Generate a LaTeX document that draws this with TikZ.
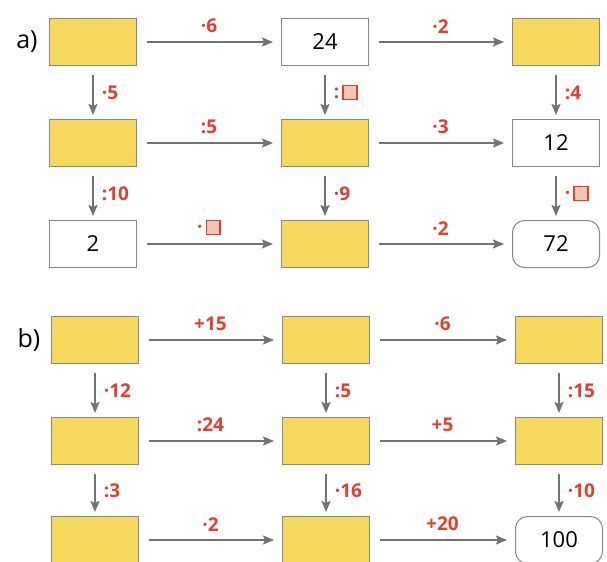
\documentclass[tikz,border=0pt]{standalone}
\usepackage{fontspec}
\setmainfont{Open Sans}
\usetikzlibrary{arrows.meta}
\definecolor{boxyellow}{RGB}{246,216,92}
\definecolor{labred}{RGB}{226,64,44}
\definecolor{arrgray}{RGB}{115,115,115}
\definecolor{sqfill}{RGB}{243,198,178}
\definecolor{boxline}{RGB}{135,135,135}
\newcommand\emptysq{\raisebox{-0.3pt}{\setlength\fboxrule{0.7pt}\setlength\fboxsep{0pt}\fcolorbox{labred}{sqfill}{\rule{6.2pt}{0pt}\rule{0pt}{6.2pt}}}}
\begin{document}
\begin{tikzpicture}[x=0.5pt,y=-0.5pt,
  ybox/.style={draw=boxline, line width=0.5pt, fill=boxyellow, minimum width=43.5pt, minimum height=23.5pt, inner sep=0pt},
  wbox/.style={draw=boxline, line width=0.5pt, fill=white, minimum width=43.5pt, minimum height=23.5pt, inner sep=0pt, font=\fontsize{11}{12}\selectfont},
  rbox/.style={wbox, rounded corners=6pt},
  conn/.style={draw=arrgray, line width=0.9pt, -{Stealth[length=5.5pt,width=4.5pt,inset=1pt]}, shorten <=5pt, shorten >=4pt},
  vconn/.style={conn, shorten <=4.5pt, shorten >=2pt},
  lab/.style={text=labred, font=\fontsize{9.5}{10}\selectfont\bfseries, inner sep=1pt},
  part/.style={font=\fontsize{12.5}{14}\selectfont}
]
\useasboundingbox (0,0) rectangle (607,562);
% part a
\node[part] (pa) at (27,42) {a)};
\node[ybox] (a11) at (93,42) {};
\node[wbox] (a12) at (325,42) {24};
\node[ybox] (a13) at (556,42) {};
\node[ybox] (a21) at (93,143) {};
\node[ybox] (a22) at (325,143) {};
\node[wbox] (a23) at (556,143) {12};
\node[wbox] (a31) at (93,244) {2};
\node[ybox] (a32) at (325,244) {};
\node[rbox] (a33) at (556,244) {72};
\draw[conn] (a11) -- node[lab,above=3pt]{·6} (a12);
\draw[conn] (a12) -- node[lab,above=3pt]{·2} (a13);
\draw[conn] (a21) -- node[lab,above=3pt]{:5} (a22);
\draw[conn] (a22) -- node[lab,above=3pt]{·3} (a23);
\draw[conn] (a31) -- node[lab,above=3pt]{·\,\emptysq} (a32);
\draw[conn] (a32) -- node[lab,above=3pt]{·2} (a33);
\draw[vconn] (a11) -- node[lab,right=3pt]{·5} (a21);
\draw[vconn] (a12) -- node[lab,right=3pt]{:\,\emptysq} (a22);
\draw[vconn] (a13) -- node[lab,right=3pt]{:4} (a23);
\draw[vconn] (a21) -- node[lab,right=3pt]{:10} (a31);
\draw[vconn] (a22) -- node[lab,right=3pt]{·9} (a32);
\draw[vconn] (a23) -- node[lab,right=3pt]{·\,\emptysq} (a33);
% part b
\node[part] (pb) at (29,340) {b)};
\node[ybox] (b11) at (95,340) {};
\node[ybox] (b12) at (326,340) {};
\node[ybox] (b13) at (559,340) {};
\node[ybox] (b21) at (95,441) {};
\node[ybox] (b22) at (326,441) {};
\node[ybox] (b23) at (559,441) {};
\node[ybox] (b31) at (95,540) {};
\node[ybox] (b32) at (326,540) {};
\node[rbox] (b33) at (559,540) {100};
\draw[conn] (b11) -- node[lab,above=3pt]{+15} (b12);
\draw[conn] (b12) -- node[lab,above=3pt]{·6} (b13);
\draw[conn] (b21) -- node[lab,above=3pt]{:24} (b22);
\draw[conn] (b22) -- node[lab,above=3pt]{+5} (b23);
\draw[conn] (b31) -- node[lab,above=3pt]{·2} (b32);
\draw[conn] (b32) -- node[lab,above=3pt]{+20} (b33);
\draw[vconn] (b11) -- node[lab,right=3pt]{·12} (b21);
\draw[vconn] (b12) -- node[lab,right=3pt]{:5} (b22);
\draw[vconn] (b13) -- node[lab,right=3pt]{:15} (b23);
\draw[vconn] (b21) -- node[lab,right=3pt]{:3} (b31);
\draw[vconn] (b22) -- node[lab,right=3pt]{·16} (b32);
\draw[vconn] (b23) -- node[lab,right=3pt]{·10} (b33);
\end{tikzpicture}
\end{document}
